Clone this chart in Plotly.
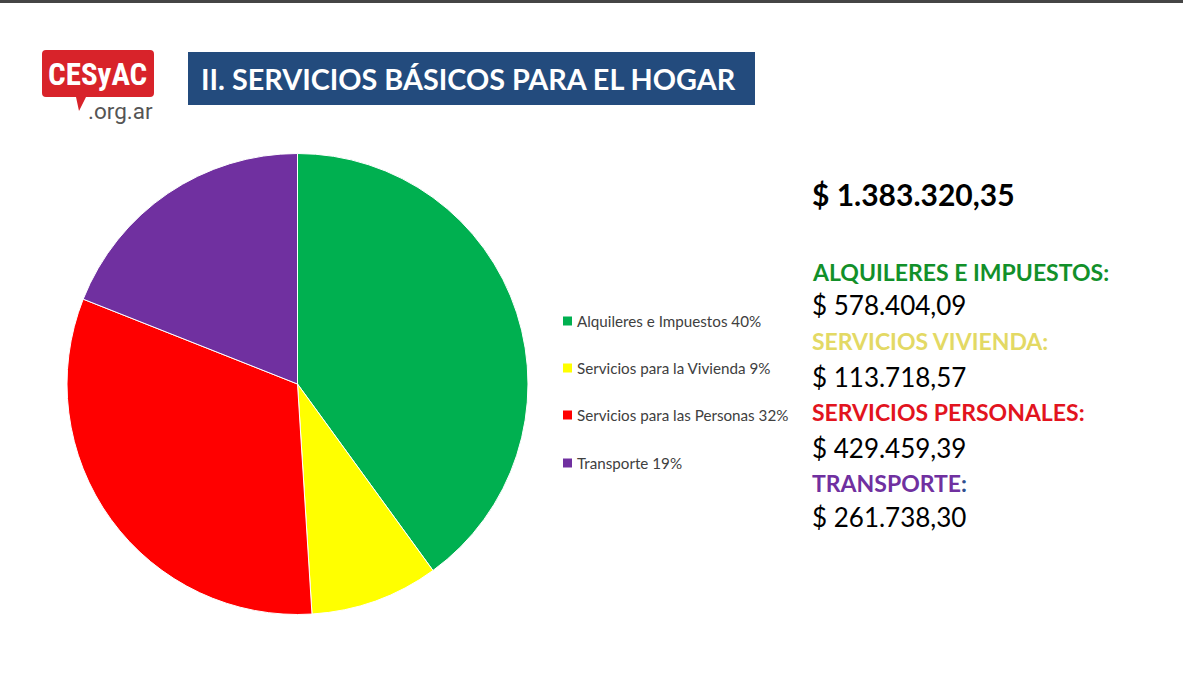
import plotly.graph_objects as go

W, H = 1183, 689

# ---- data ----
categories = ["Alquileres e Impuestos", "Servicios para la Vivienda",
              "Servicios para las Personas", "Transporte"]
legend_pct = ["40%", "9%", "32%", "19%"]
slice_values = [40, 9, 32, 19]
colors = ["#00B050", "#FFFF00", "#FF0000", "#7030A0"]

total_label = "$ 1.383.320,35"
block_titles = ["ALQUILERES E IMPUESTOS:", "SERVICIOS VIVIENDA:",
                "SERVICIOS PERSONALES:", "TRANSPORTE"]
block_colors = ["#12902A", "#E3D964", "#E2141E", "#7030A0"]
block_amounts = ["$ 578.404,09", "$ 113.718,57", "$ 429.459,39", "$ 261.738,30"]

title_text = "II. SERVICIOS BÁSICOS PARA EL HOGAR"


def px(x):
    return x / W


def py(y):
    return 1 - y / H


fig = go.Figure()

cx, cy, r = 297.5, 384, 230.5
fig.add_trace(go.Pie(
    labels=categories,
    values=slice_values,
    marker=dict(colors=colors, line=dict(color="white", width=1)),
    sort=False,
    direction="clockwise",
    rotation=0,
    textinfo="none",
    hoverinfo="label+percent",
    showlegend=False,
    domain=dict(x=[px(cx - r), px(cx + r)], y=[py(cy + r), py(cy - r)]),
))

shapes = []
annotations = []

# top border line
shapes.append(dict(type="rect", xref="paper", yref="paper",
                   x0=0, x1=1, y0=py(3), y1=1, fillcolor="#454545", line_width=0))

# logo bubble
shapes.append(dict(type="path", xref="paper", yref="paper",
                   path=(f"M {px(46)},{py(50)} L {px(150)},{py(50)} "
                         f"Q {px(154)},{py(50)} {px(154)},{py(54)} "
                         f"L {px(154)},{py(93)} Q {px(154)},{py(97)} {px(150)},{py(97)} "
                         f"L {px(86)},{py(97)} L {px(79)},{py(111)} L {px(76)},{py(97)} "
                         f"L {px(46)},{py(97)} Q {px(42)},{py(97)} {px(42)},{py(93)} "
                         f"L {px(42)},{py(54)} Q {px(42)},{py(50)} {px(46)},{py(50)} Z"),
                   fillcolor="#D8232A", line_width=0))
annotations.append(dict(x=px(97), y=py(74), xref="paper", yref="paper",
                        text="<b>CESyAC</b>", showarrow=False,
                        font=dict(family="Roboto Condensed, Roboto, Liberation Sans Narrow", size=31, color="white"),
                        xanchor="center", yanchor="middle"))
annotations.append(dict(x=px(155), y=py(111), xref="paper", yref="paper",
                        text=".org.ar", showarrow=False,
                        font=dict(family="Roboto", size=22.5, color="#555555"),
                        xanchor="right", yanchor="middle"))

# title box
shapes.append(dict(type="rect", xref="paper", yref="paper",
                   x0=px(188), x1=px(755), y0=py(105), y1=py(52),
                   fillcolor="#234B7D", line_width=0))
annotations.append(dict(x=px(199), y=py(79), xref="paper", yref="paper",
                        text=f"<b>{title_text}</b>", showarrow=False,
                        font=dict(family="Lato", size=28.8, color="white"),
                        xanchor="left", yanchor="middle"))

# legend (manual)
leg_y = [321, 368, 415, 463]
for cat, pct, col, y in zip(categories, legend_pct, colors, leg_y):
    shapes.append(dict(type="rect", xref="paper", yref="paper",
                       x0=px(563), x1=px(572), y0=py(y + 4.5), y1=py(y - 4.5),
                       fillcolor=col, line_width=0))
    annotations.append(dict(x=px(575), y=py(y), xref="paper", yref="paper",
                            text=f"{cat} {pct}", showarrow=False,
                            font=dict(family="Lato", size=15.2, color="#404040"),
                            xanchor="left", yanchor="middle"))

# right text block
annotations.append(dict(x=px(810), y=py(194), xref="paper", yref="paper",
                        text=f"<b>{total_label}</b>", showarrow=False,
                        font=dict(family="Lato", size=30, color="#000000"),
                        xanchor="left", yanchor="middle"))
title_y = [272, 341, 412, 483]
amount_y = [305, 377, 448, 517]
for i, (t, c, a, ty, ay) in enumerate(zip(block_titles, block_colors, block_amounts, title_y, amount_y)):
    txt = f"<b>{t}</b>" if i < 3 else f"<b>{t}</b><b><span style='color:#2F4F8F'>:</span></b>"
    annotations.append(dict(x=px(810), y=py(ty), xref="paper", yref="paper",
                            text=txt, showarrow=False,
                            font=dict(family="Lato", size=23, color=c),
                            xanchor="left", yanchor="middle"))
    annotations.append(dict(x=px(810), y=py(ay), xref="paper", yref="paper",
                            text=a, showarrow=False,
                            font=dict(family="Lato", size=26, color="#000000"),
                            xanchor="left", yanchor="middle"))

fig.update_layout(
    width=W, height=H,
    margin=dict(l=0, r=0, t=0, b=0),
    paper_bgcolor="white", plot_bgcolor="white",
    shapes=shapes, annotations=annotations,
    showlegend=False,
)

fig.write_html("out.html", config={"displayModeBar": False},
               post_script="document.body.style.margin='0';document.body.style.overflow='hidden';")
